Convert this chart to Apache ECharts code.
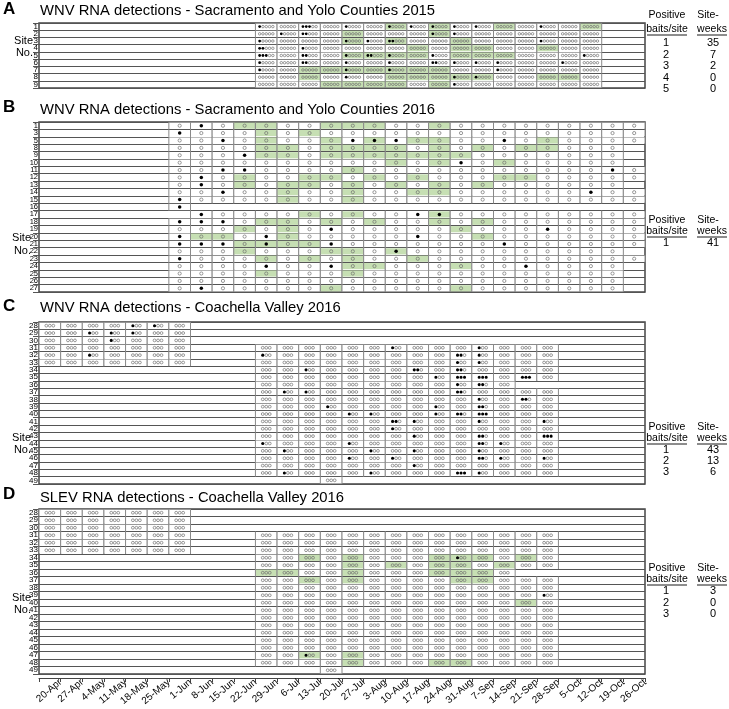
<!DOCTYPE html>
<html><head><meta charset="utf-8">
<script src="https://cdn.jsdelivr.net/npm/echarts/dist/echarts.min.js"></script>
<style>html,body{margin:0;padding:0;background:#fff}#c{width:729px;height:709px}</style>
</head><body><div id="c"></div>
<script>
// ---------------- DATA ----------------
const weeks = ['20-Apr','27-Apr','4-May','11-May','18-May','25-May','1-Jun','8-Jun','15-Jun','22-Jun','29-Jun','6-Jul','13-Jul','20-Jul','27-Jul','3-Aug','10-Aug','17-Aug','24-Aug','31-Aug','7-Sep','14-Sep','21-Sep','28-Sep','5-Oct','12-Oct','19-Oct','26-Oct'];

// Panel A: WNV, Sacramento/Yolo 2015 (5 baits per trap)
const sitesA = ['1','2','3','4','5','6','7','8','9'];
const spansA = sitesA.map(() => [[10,25]]);
const posA = [
  [[10,1],[12,3],[14,1],[16,1],[17,1],[18,1],[19,1],[20,1],[23,1]],
  [[11,1],[12,2],[18,1],[19,1]],
  [[10,1],[14,1],[15,1],[16,2],[23,1]],
  [[10,2],[12,1]],
  [[10,3],[12,2],[14,1],[15,2],[16,1],[18,1],[25,1]],
  [[10,1],[12,2],[14,1],[16,1],[18,2],[19,1],[20,1],[21,1],[24,1]],
  [[10,1],[14,1],[16,1],[21,1]],
  [[14,1],[19,1],[20,1]],
  [[19,1]]
];
const greenA = [
  [16,18,21,25],[14,18],[14,16,19],[17,19,20,23],[14,15,16,17,19,20,21],[],
  [12,13,14,15,16,17,18],[12,16,17,18,19,20,23,24],[13,14,15,16,18]
];
const tallyBaitsA = ['1','2','3','4','5'];
const tallyWeeksA = ['35','7','2','0','0'];

// Panel B: WNV, Sacramento/Yolo 2016 (1 bait per trap)
const sitesB = ['1','3','5','8','9','10','11','12','13','14','15','16','17','18','19','20','21','22','23','24','25','26','27'];
const spansB = [[[6,27]],[[6,27]],[[6,27]],[[6,26]],[[6,26]],[[6,26]],[[6,27]],[[6,27]],[[6,26]],[[6,27]],[[6,27]],[[6,6]],[[7,27]],[[6,27]],[[6,27]],[[6,27]],[[6,27]],[[6,26]],[[6,27]],[[6,26]],[[6,26]],[[6,26]],[[6,26]]];
const posB = [[7],[6],[8,14,15,16,21],[],[9],[19],[8,9,26],[7],[7],[8,25],[6],[6],[7,17,18],[6,7,8],[13,23],[6,10,17],[6,7,8,10,13,21],[16],[6],[10,13,22],[],[],[7]];
const greenB = [
  [9,10,13,14,15,18],[10,12],[10,13,15,17,18,23],[10,11,13,14,15,16,18,20,22,23],
  [10,11,13,14,15,16,17,18,19],[16,18,21],[14],[9,12,13,15,17,21,22],[9,11,12,14,16,18,20],
  [11,14,17,18],[11,14],[],[12,14,18],[10,11,13,15,18,20],[9,11,19],[7,8,11,20],
  [9,10,11,12],[9,13,14,16],[10,12,14,17],[14,15,19],[10,14],[],[13,19]
];
const tallyBaitsB = ['1'];
const tallyWeeksB = ['41'];

// Panels C and D: Coachella Valley 2016 (3 baits per trap)
const sitesCV = ['28','29','30','31','32','33','34','35','36','37','38','39','40','41','42','43','44','45','46','47','48','49'];
const spansCV = [
  [[0,6]],[[0,6]],[[0,6]],[[0,6],[10,23]],[[0,6],[10,23]],[[0,6],[10,23]],
  [[10,23]],[[10,23]],[[10,21]],[[10,23]],[[10,23]],[[10,23]],[[10,23]],[[10,23]],
  [[10,23]],[[10,23]],[[10,23]],[[10,23]],[[10,23]],[[10,23]],[[10,23]],[[13,13]]
];
const posC = [
  [[4,1],[5,1]],[[2,1],[3,1],[4,1]],[[3,1]],[[16,1],[20,1]],[[2,1],[10,1],[19,2],[20,1]],[[19,1],[20,1]],
  [[12,1],[17,2],[19,2]],[[18,1],[19,3],[20,3],[22,3]],[[19,1],[20,2]],[[11,1],[12,1],[19,2]],
  [[20,1],[22,2]],[[13,1],[18,1],[20,2]],[[14,1],[15,1],[18,1],[19,2],[20,3]],[[16,2],[17,1],[20,1],[23,1]],
  [[16,1]],[[17,1],[20,2],[23,3]],[[10,1],[14,1],[20,2],[21,1]],[[11,1],[15,1],[17,1],[20,1]],
  [[14,1],[16,1],[20,2],[21,1],[23,1]],[[17,1]],[[11,1],[15,1],[19,3],[20,1]],[]
];
const greenC = sitesCV.map(() => []);
const tallyBaitsC = ['1','2','3'];
const tallyWeeksC = ['43','13','6'];

const posD = [
  [],[],[],[],[],[],[[19,1]],[],[],[],[],[[23,1]],[],[],[],[],[],[],[],[[12,1]],[],[]
];
const greenD = [
  [],[],[],[],[],[],[12,14,18,19,20,22],[14,16,18,19,21],[10,11,14,18,19,20],[12,14,19,20],
  [],[],[22],[],[],[],[],[],[],[12,14],[14,18,19],[]
];
const tallyBaitsD = ['1','2','3'];
const tallyWeeksD = ['3','0','0'];

const titles = [
  'WNV RNA detections - Sacramento and Yolo Counties 2015',
  'WNV RNA detections - Sacramento and Yolo Counties 2016',
  'WNV RNA detections - Coachella Valley 2016',
  'SLEV RNA detections - Coachella Valley 2016'
];

// ---------------- BUILD ----------------
function buildCells(spans, pos, green) {
  const out = [];
  spans.forEach((sp, r) => {
    const pm = {};
    (pos[r] || []).forEach(p => { if (Array.isArray(p)) pm[p[0]] = p[1]; else pm[p] = 1; });
    sp.forEach(([a, b]) => {
      for (let c = a; c <= b; c++) out.push([c, r, pm[c] || 0, green[r].includes(c) ? 1 : 0]);
    });
  });
  return out;
}

const FONT = '"Liberation Sans", Arial, sans-serif';
const GREEN = '#c6dfb3';

function makeRender(n, spacing, r) {
  return function (params, api) {
    const col = api.value(0), row = api.value(1), k = api.value(2), g = api.value(3);
    const c = api.coord([col, row]);
    const s = api.size([1, 1]);
    const w = s[0], h = s[1];
    const x0 = c[0] - w / 2, y0 = c[1] - h / 2;
    const ch = [
      {type: 'rect', shape: {x: x0, y: y0 + 0.6, width: w, height: h - 1.2}, style: {fill: g ? GREEN : '#fff'}},
      {type: 'line', shape: {x1: x0, y1: y0, x2: x0, y2: y0 + h}, style: {stroke: '#8a8a8a', lineWidth: 1}},
      {type: 'line', shape: {x1: x0 + w, y1: y0, x2: x0 + w, y2: y0 + h}, style: {stroke: '#8a8a8a', lineWidth: 1}}
    ];
    for (let i = 0; i < n; i++) {
      const cx = c[0] + (i - (n - 1) / 2) * spacing;
      if (i < k) ch.push({type: 'circle', shape: {cx, cy: c[1], r: r + 0.15}, style: {fill: '#000'}});
      else ch.push({type: 'circle', shape: {cx, cy: c[1], r}, style: {fill: 'none', stroke: '#6f6f6f', lineWidth: 0.7}});
    }
    return {type: 'group', children: ch};
  };
}

const gridBoxes = [
  {left: 39, top: 23, width: 606, height: 65},
  {left: 39, top: 122, width: 606, height: 170},
  {left: 39, top: 322, width: 606, height: 162},
  {left: 39, top: 509, width: 606, height: 165}
];
const siteLists = [sitesA, sitesB, sitesCV, sitesCV];
const rowFont = [8, 7.5, 8, 8];

const grid = gridBoxes.map(b => Object.assign({show: true, borderColor: '#444', borderWidth: 1.5, backgroundColor: '#fff'}, b));
const xAxis = gridBoxes.map((b, i) => ({type: 'category', gridIndex: i, data: weeks, show: false, boundaryGap: true}));
xAxis.push({
  type: 'category', gridIndex: 3, data: [''].concat(weeks), boundaryGap: false, position: 'bottom', offset: 4,
  axisLine: {show: true, lineStyle: {color: '#444', width: 1}},
  axisTick: {show: true, interval: 0, length: 4, lineStyle: {color: '#444'}},
  axisLabel: {interval: 0, rotate: 40, fontSize: 10, margin: 3, color: '#000', fontFamily: FONT},
  splitLine: {show: false}
});
const yAxis = siteLists.map((s, i) => ({
  type: 'category', gridIndex: i, data: s, inverse: true,
  axisLine: {show: false},
  axisTick: {show: true, interval: 0, length: 6, lineStyle: {color: '#555', width: 1}},
  axisLabel: {interval: 0, fontSize: rowFont[i], margin: 1, color: '#000', fontFamily: FONT},
  splitLine: {show: true, interval: 0, lineStyle: {color: '#555', width: 1}}
}));

const series = [
  {data: buildCells(spansA, posA, greenA), n: 5, sp: 3.3, r: 1.25},
  {data: buildCells(spansB, posB, greenB), n: 1, sp: 0, r: 1.6},
  {data: buildCells(spansCV, posC, greenC), n: 3, sp: 3.5, r: 1.4},
  {data: buildCells(spansCV, posD, greenD), n: 3, sp: 3.5, r: 1.4}
].map((d, i) => ({
  type: 'custom', coordinateSystem: 'cartesian2d', xAxisIndex: i, yAxisIndex: i,
  data: d.data, renderItem: makeRender(d.n, d.sp, d.r), silent: true, animation: false
}));

// ---------------- TEXT DECORATION ----------------
function txt(text, x, y, size, align, bold) {
  return {type: 'text', silent: true, style: {text, x, y, fontSize: size, fontFamily: FONT,
    fontWeight: bold ? 'bold' : 'normal', fill: '#000', align: align || 'left', verticalAlign: 'middle'}};
}
function uline(x1, x2, y) {
  return {type: 'line', silent: true, shape: {x1, y1: y, x2, y2: y}, style: {stroke: '#000', lineWidth: 0.9}};
}
const letterY = [9, 107, 306, 494];
const titleY = [11, 110, 308, 498];
const siteY = [[41, 53], [238, 251], [438, 450], [598, 610]];
const siteX = [33, 31, 31, 31];
const legendY = [[15, 29, 42.5, 54.5, 66, 77.5, 89], [220, 231, 242.5], [427, 438, 449.5, 461, 472], [568, 579, 591, 602.5, 614]];
const tallies = [[tallyBaitsA, tallyWeeksA], [tallyBaitsB, tallyWeeksB], [tallyBaitsC, tallyWeeksC], [tallyBaitsD, tallyWeeksD]];

const graphic = [];
['A', 'B', 'C', 'D'].forEach((L, i) => {
  graphic.push(txt(L, 3, letterY[i], 17, 'left', true));
  graphic.push(txt(titles[i], 40, titleY[i], 14.8, 'left', false));
  graphic.push(txt('Site', siteX[i], siteY[i][0], 11, 'right'));
  graphic.push(txt('No.', siteX[i], siteY[i][1], 11, 'right'));
  const ly = legendY[i];
  graphic.push(txt('Positive', 667, ly[0], 10.5, 'center'));
  graphic.push(txt('baits/site', 667, ly[1], 10.5, 'center'));
  graphic.push(uline(647, 687, ly[1] + 6));
  graphic.push(txt('Site-', 708, ly[0], 10.5, 'center'));
  graphic.push(txt('weeks', 712, ly[1], 10.5, 'center'));
  graphic.push(uline(697, 727, ly[1] + 6));
  tallies[i][0].forEach((v, j) => {
    graphic.push(txt(v, 666, ly[2 + j], 11, 'center'));
    graphic.push(txt(tallies[i][1][j], 713, ly[2 + j], 11, 'center'));
  });
});

const chart = echarts.init(document.getElementById('c'), null, {renderer: 'canvas'});
chart.setOption({animation: false, backgroundColor: '#fff', grid, xAxis, yAxis, series, graphic});
</script></body></html>
